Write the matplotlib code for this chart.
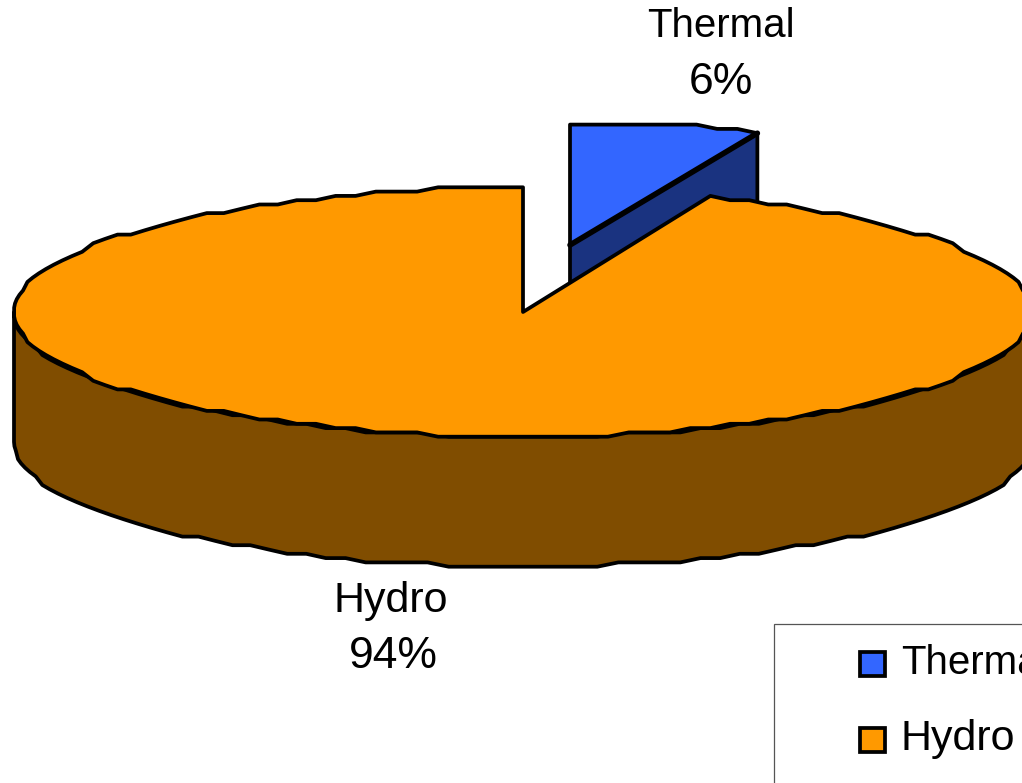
import numpy as np
import matplotlib
matplotlib.use("Agg")
import matplotlib.pyplot as plt
from matplotlib.patches import Polygon, Rectangle

categories = ["Thermal", "Hydro"]
values = [6, 94]
top_colors = ["#3366FF", "#FF9900"]
side_colors = ["#1A3380", "#804D00"]

plt.rcParams["font.family"] = ["Liberation Sans", "DejaVu Sans"]

fig = plt.figure(figsize=(10.22, 7.83), dpi=100)
ax = fig.add_axes([0, 0, 1, 1])
ax.set_xlim(0, 1022)
ax.set_ylim(783, 0)
ax.axis("off")

CX, CY, RX, RY, DEPTH = 523, 312, 509, 124.5, 130
OFFSET = (47, -67)
EDGE = dict(edgecolor="black", linewidth=2.7, joinstyle="round")
GRID = 4.3


def rim(a0, a1, cx, cy, ry=RY):
    """Rim of the tilted pie; y steps on a coarse grid like the source's outline."""
    n = int(round(abs(a1 - a0) / 2.4)) + 1
    t = np.radians(np.linspace(a0, a1, n))
    y = np.round(-ry * np.cos(t) / GRID) * GRID
    return np.column_stack([cx + RX * np.sin(t), cy + y])


sweep = 360 * values[0] / sum(values)

# Thermal slice, pulled out of the pie and drawn first
tx, ty = CX + OFFSET[0], CY + OFFSET[1]
t_rim = rim(0, sweep, tx, ty, ry=122.5)
ax.add_patch(Polygon([[tx, ty], t_rim[-1], t_rim[-1] + [0, DEPTH], [tx, ty + DEPTH]],
                     facecolor=side_colors[0], **EDGE))
ax.add_patch(Polygon(np.vstack([[[tx, ty]], t_rim]), facecolor=top_colors[0], **EDGE))
ax.plot([tx, t_rim[-1][0]], [ty, t_rim[-1][1]], color="black", lw=4.0,
        solid_capstyle="round")

# Hydro slice: outer wall, then top face
wall = rim(90, 270, CX, CY)
wall = wall[wall[:, 1] >= CY]
ax.add_patch(Polygon(np.vstack([wall, (wall + [0, DEPTH])[::-1]]),
                     facecolor=side_colors[1], **EDGE))
ax.add_patch(Polygon(np.vstack([[[CX, CY]], rim(sweep, 360, CX, CY)]),
                     facecolor=top_colors[1], **EDGE))

# Data labels
label_pos = [(721, 26, 721, 82), (391, 601, 393, 656)]
name_sizes = [29, 31]
pct_size = 32
for name, val, size, (x1, y1, x2, y2) in zip(categories, values, name_sizes, label_pos):
    pct = f"{round(100 * val / sum(values))}%"
    ax.text(x1, y1, name, fontsize=size, ha="center", va="center")
    ax.text(x2, y2, pct, fontsize=pct_size, ha="center", va="center")

# Legend, running off the right edge as in the source
ax.add_patch(Rectangle((774, 624), 260, 170, facecolor="white",
                       edgecolor="#555555", linewidth=0.9))
for name, color, size, y in zip(categories, top_colors, name_sizes, [664, 740]):
    ax.add_patch(Rectangle((860, y - 12), 25, 24, facecolor=color,
                           edgecolor="black", linewidth=2.7))
    ax.text(901, y - 1, name, fontsize=size, ha="left", va="center", clip_on=True)

fig.savefig("out.png", dpi=100)
